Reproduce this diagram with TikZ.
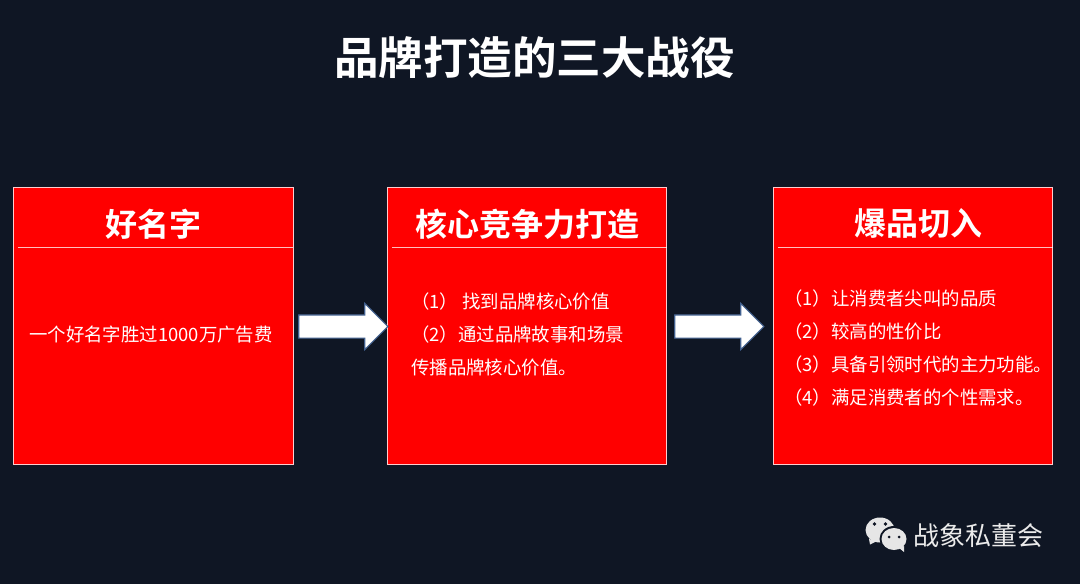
\documentclass[tikz,border=0pt]{standalone}
\usepackage{fontspec}
\setmainfont{Noto Sans CJK SC}[BoldFont={Noto Sans CJK SC Bold}]
\usetikzlibrary{shapes.arrows}
\definecolor{bgdark}{HTML}{0F1624}
\definecolor{redfill}{HTML}{FF0000}
\definecolor{arrowedge}{HTML}{41608F}
\definecolor{iconfill}{HTML}{E6E6E6}
\tikzset{
	card/.style={draw=white!80!red, line width=0.7pt, fill=redfill},
	rule/.style={draw=white, line width=0.4pt, opacity=0.75},
	headline/.style={text=white, font=\fontsize{24}{28}\selectfont\bfseries, inner sep=0pt},
	bodyline/.style={text=white, font=\fontsize{13.8}{16}\selectfont, inner sep=0pt, anchor=west},
	blockarrow/.style={shape=single arrow, draw=arrowedge, fill=white, line width=0.8pt,
			minimum height=66.75pt, minimum width=33.75pt, inner sep=8.25pt,
			single arrow head extend=8.6pt, single arrow head indent=0pt}
}

\begin{document}
\begin{tikzpicture}[x=0.75pt, y=-0.75pt]
    \fill[bgdark] (0,0) rectangle (1080,584);
    \useasboundingbox (0,0) rectangle (1080,584);

    \node[text=white, font=\fontsize{33.4}{40}\selectfont\bfseries, inner sep=0pt] (title) at (534.5,58) {品牌打造的三大战役};

    % the three cards
    \draw[card] (13,187.5) rectangle (293,464.5);
    \draw[card] (387.5,187.5) rectangle (666.5,464.5);
    \draw[card] (773.5,187.5) rectangle (1052.5,464.5);

    \draw[rule] (18,247.5) -- (293,247.5);
    \draw[rule] (392,247.5) -- (666.5,247.5);
    \draw[rule] (778,247.5) -- (1052.5,247.5);

    \node[headline] (nameHead) at (153,224) {好名字};
    \node[headline] (coreHead) at (527.5,224) {核心竞争力打造};
    \node[headline] (hitHead)  at (918.5,224) {爆品切入};

    \node[bodyline, anchor=center] (nameText) at (151,335) {一个好名字胜过1000万广告费};

    \node[bodyline] (coreA) at (411,302) {（1） 找到品牌核心价值};
    \node[bodyline] (coreB) at (411,335) {（2）通过品牌故事和场景};
    \node[bodyline] (coreC) at (411,368) {传播品牌核心价值。};

    \node[bodyline] (hitA) at (784,299) {（1）让消费者尖叫的品质};
    \node[bodyline] (hitB) at (784,332) {（2）较高的性价比};
    \node[bodyline] (hitC) at (784,365) {（3）具备引领时代的主力功能。};
    \node[bodyline] (hitD) at (784,398) {（4）满足消费者的个性需求。};

    % arrows between the cards
    \node[blockarrow] (arrowA) at (337.5,326.5) {};
    \node[blockarrow] (arrowB) at (713.5,326.5) {};

    % wechat mark
    \fill[iconfill] (880,530) ellipse (14.5 and 12.5);
    \fill[iconfill] (869,539) -- (870,544.5) -- (877,541) -- cycle;
    \fill[bgdark] (894,539) ellipse (14.5 and 13);
    \fill[iconfill] (894,539) ellipse (12.5 and 11);
    \fill[iconfill] (899,548) -- (904,552) -- (904,546) -- cycle;
    \fill[bgdark] (874.5,524) circle (1.8);
    \fill[bgdark] (885.5,524) circle (1.8);
    \fill[bgdark] (889,537) circle (1.5);
    \fill[bgdark] (899,537) circle (1.5);

    \node[text=white!92!black, font=\fontsize{19.5}{23}\selectfont, inner sep=0pt] (brand) at (978,536) {战象私董会};
\end{tikzpicture}
\end{document}
